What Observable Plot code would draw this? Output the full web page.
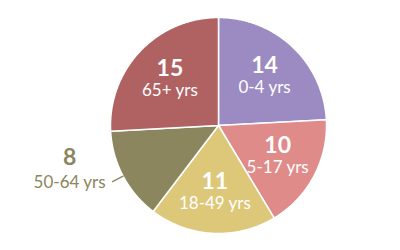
<!DOCTYPE html>
<html><head><meta charset="utf-8">
<script src="https://cdn.jsdelivr.net/npm/d3@7"></script>
<script src="https://cdn.jsdelivr.net/npm/@observablehq/plot@0.6"></script>
<style>body{margin:0;background:#fff}</style>
</head><body><div id="chart"></div>
<script>
const groups = ["0-4 yrs", "5-17 yrs", "18-49 yrs", "50-64 yrs", "65+ yrs"];
const values = [14, 10, 11, 8, 15];
const colors = ["#9b8bc2", "#df8b8a", "#dcc878", "#8b865d", "#b06262"];

const rows = groups.map((g, i) => ({group: g, value: values[i]}));
const arcs = d3.pie().sort(null).value(d => d.value)(rows);

// slice outlines (center -> arc -> center) in unit-radius coordinates
const pts = [];
arcs.forEach(a => {
  const n = Math.max(2, Math.ceil((a.endAngle - a.startAngle) / 0.01));
  pts.push({group: a.data.group, x: 0, y: 0});
  for (let k = 0; k <= n; k++) {
    const t = a.startAngle + (a.endAngle - a.startAngle) * k / n;
    pts.push({group: a.data.group, x: Math.sin(t), y: Math.cos(t)});
  }
  pts.push({group: a.data.group, x: 0, y: 0});
});

const minInside = 0.95; // radians
const labelR = 0.62, leaderR = 1.11;
const inside = [], outside = [], leaders = [];
arcs.forEach(a => {
  const m = (a.startAngle + a.endAngle) / 2;
  if (a.endAngle - a.startAngle >= minInside) {
    inside.push({group: a.data.group, value: a.data.value, x: labelR * Math.sin(m), y: labelR * Math.cos(m)});
  } else {
    outside.push({group: a.data.group, value: a.data.value, x: leaderR * Math.sin(m), y: leaderR * Math.cos(m)});
    leaders.push({group: a.data.group, x: Math.sin(m), y: Math.cos(m)});
    leaders.push({group: a.data.group, x: leaderR * Math.sin(m), y: leaderR * Math.cos(m)});
  }
});

const font = "Lato, 'Open Sans', sans-serif";
const chart = Plot.plot({
  width: 400, height: 250,
  marginLeft: 110, marginRight: 74, marginTop: 17, marginBottom: 17,
  x: {domain: [-1, 1], axis: null},
  y: {domain: [-1, 1], axis: null},
  color: {domain: groups, range: colors},
  style: {fontFamily: font, background: "#fff"},
  marks: [
    Plot.line(pts, {x: "x", y: "y", z: "group", fill: "group", stroke: "#fff", strokeWidth: 1.5, strokeLinejoin: "round"}),
    Plot.line(leaders, {x: "x", y: "y", z: "group", stroke: "group", strokeWidth: 1.3}),
    Plot.text(inside, {x: "x", y: "y", text: d => String(d.value), fill: "#fff", fontSize: 23, fontWeight: "bold", dy: -11, fontFamily: font}),
    Plot.text(inside, {x: "x", y: "y", text: "group", fill: "#fff", fontSize: 17, dy: 11, fontFamily: font}),
    Plot.text(outside, {x: "x", y: "y", text: d => String(d.value), fill: "group", fontSize: 23, fontWeight: "bold", dx: -43, dy: -24, fontFamily: font}),
    Plot.text(outside, {x: "x", y: "y", text: "group", fill: "group", fontSize: 17, dx: -43, dy: 1, fontFamily: font})
  ]
});
document.getElementById("chart").appendChild(chart);
</script>
</body></html>
